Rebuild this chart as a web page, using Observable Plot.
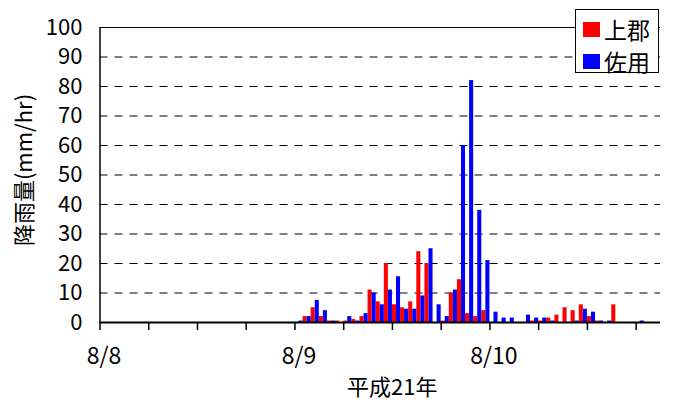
<!DOCTYPE html>
<html>
<head>
<meta charset="utf-8">
<script src="https://cdn.jsdelivr.net/npm/d3@7"></script>
<script src="https://cdn.jsdelivr.net/npm/@observablehq/plot@0.6"></script>
<style>
  html, body { margin: 0; padding: 0; background: white; }
  #wrap { position: relative; width: 678px; height: 403px; font-family: "Noto Sans CJK JP", sans-serif; }
  #legend { position: absolute; left: 575px; top: 9px; width: 82px; height: 62px; border: 1px solid black; background: white; }
  .item { position: absolute; left: 7px; display: flex; align-items: center; font-size: 23px; line-height: 23px; }
  .sw { width: 17px; height: 15px; margin-right: 4px; }
  .num text { font-family: "Liberation Sans Narrow", "Arial Narrow", "Noto Sans CJK JP", sans-serif; }
</style>
</head>
<body>
<div id="wrap"></div>
<script>
// Hour index counted from 8/8 00:00 (one category per hour)
const hours    = [24,25,26,27,28,29,30,31,32,33,34,35,36,37,38,39,40,41,42,43,44,45,46,47,48,49,50,51,52,53,54,55,56,57,58,59,60,61,62,63,64,65,66];
// 上郡 (red)
const kamigori = [0, 2, 5, 2, 0.5, 0.5, 0.5, 1, 2, 11, 7, 20, 6, 5, 7, 24, 20, 0, 0.5, 10, 14.5, 3, 2, 4, 0, 0, 0, 0, 0, 0.5, 0.5, 1.5, 2.5, 5, 4, 6, 2, 0.5, 0, 6, 0, 0, 0];
// 佐用 (blue)
const sayo     = [0.5, 2, 7.5, 4, 0.5, 0, 2, 0.5, 3, 10, 6, 11, 15.5, 4.5, 4.5, 9, 25, 6, 2, 11, 60, 82, 38, 21, 3.5, 1.5, 1.5, 0, 2.5, 1.5, 1.5, 0.5, 0, 0, 0.5, 4.5, 3.5, 0.5, 0.5, 0, 0, 0, 0.5];
const seriesNames = ["上郡", "佐用"];
const seriesColors = ["#ff0000", "#0000ff"];
const yTicks = [0, 10, 20, 30, 40, 50, 60, 70, 80, 90, 100];
const xTickHours = [0, 6, 12, 18, 24, 30, 36, 42, 48, 54, 60, 66];
const dateHours = [0, 24, 48];
const dateLabels = ["8/8", "8/9", "8/10"];
const xDomain = [0, 69];
const xTitle = "平成21年";
const yTitle = "降雨量(mm/hr)";

const redRows = hours.map((h, i) => ({h, v: kamigori[i]})).filter(d => d.v > 0);
const blueRows = hours.map((h, i) => ({h, v: sayo[i]})).filter(d => d.v > 0);
const dateRows = dateHours.map((h, i) => ({h, label: dateLabels[i]}));

const chart = Plot.plot({
  width: 678,
  height: 403,
  marginLeft: 99.5,
  marginRight: 18,
  marginTop: 27,
  marginBottom: 81,
  x: {domain: xDomain, axis: null},
  y: {domain: [0, 100], axis: null},
  style: {fontFamily: "'Noto Sans CJK JP', sans-serif", fontSize: "21px", color: "black", background: "white", overflow: "visible"},
  marks: [
    Plot.ruleY(yTicks.filter(d => d > 0 && d < 100), {stroke: "black", strokeDasharray: "8,7", strokeWidth: 1}),
    Plot.ruleY([100], {stroke: "black", strokeWidth: 1}),
    Plot.rectY(redRows, {x1: d => d.h, x2: d => d.h + 0.5, y: "v", fill: seriesColors[0]}),
    Plot.rectY(blueRows, {x1: d => d.h + 0.5, x2: d => d.h + 1, y: "v", fill: seriesColors[1]}),
    Plot.ruleX([0], {y1: 0, y2: 100, stroke: "black", strokeWidth: 1.5}),
    Plot.ruleY([0], {stroke: "black", strokeWidth: 2}),
    Plot.axisX({ticks: xTickHours, tickSize: 8, tickFormat: () => "", label: null, strokeWidth: 1.5}),
    Plot.text(dateRows, {x: d => d.h + 0.5, text: "label", frameAnchor: "bottom", lineAnchor: "middle", dy: 34, fontSize: 23, className: "num"}),
    Plot.axisY({ticks: yTicks, tickSize: 0, tickPadding: 17.5, label: null, fontSize: 22, className: "num"}),
    Plot.text([yTitle], {frameAnchor: "left", textAnchor: "middle", lineAnchor: "middle", rotate: -90, dx: -75.5, dy: -5, fontSize: 22}),
    Plot.text([xTitle], {frameAnchor: "bottom", lineAnchor: "middle", dy: 65, dx: 12, fontSize: 22})
  ]
});

const wrap = document.getElementById("wrap");
wrap.appendChild(chart);
const legend = document.createElement("div");
legend.id = "legend";
seriesNames.forEach((name, i) => {
  const item = document.createElement("div");
  item.className = "item";
  item.style.top = (i === 0 ? 8 : 40) + "px";
  const sw = document.createElement("div");
  sw.className = "sw";
  sw.style.background = seriesColors[i];
  item.appendChild(sw);
  const t = document.createElement("span");
  t.textContent = name;
  item.appendChild(t);
  legend.appendChild(item);
});
wrap.appendChild(legend);
</script>
</body>
</html>
